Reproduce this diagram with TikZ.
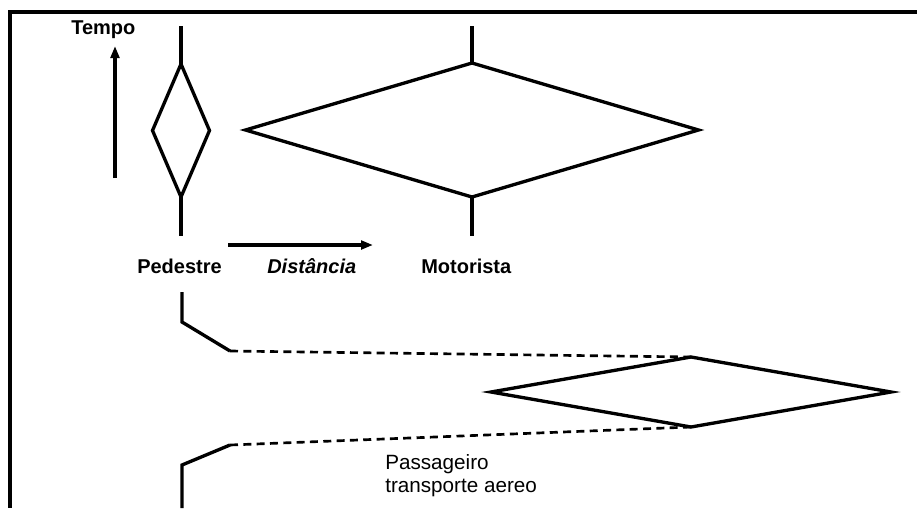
\documentclass[tikz,border=0pt]{standalone}
\usepackage{fontspec}
\setmainfont{Liberation Sans}
\usetikzlibrary{shapes.geometric,arrows.meta}
\begin{document}
\begin{tikzpicture}[x=0.75pt,y=-0.75pt,
  rhomb/.style={draw,diamond,line width=2.5pt,inner sep=0pt,outer sep=0pt},
  link/.style={line width=2.5pt},
  dashlink/.style={line width=2pt,dash pattern=on 6pt off 4pt},
  axis/.style={line width=2.5pt,-{Triangle[length=9pt,width=6.5pt]}},
  lbl/.style={anchor=base west,inner sep=0pt,font=\fontsize{15pt}{18pt}\selectfont\bfseries},
  plain/.style={anchor=base west,inner sep=0pt,font=\fontsize{15.5pt}{18pt}\selectfont},
  frame/.style={line width=2.3pt}]
\useasboundingbox (0,0) rectangle (917,508);
\fill[white] (0,0) rectangle (917,508);

% outer frame (top and left edges)
\draw[frame] (917,12) -- (10,12) -- (10,508);

% diamonds (sizes given in pixels, 1px = 0.75pt)
\node[rhomb,minimum width=57*0.75pt,minimum height=133*0.75pt] (ped) at (181,130.5) {};
\node[rhomb,minimum width=453*0.75pt,minimum height=134*0.75pt] (mot) at (472,130) {};
\node[rhomb,minimum width=400*0.75pt,minimum height=70*0.75pt] (aer) at (691,392) {};

% stems of the two upper diamonds
\coordinate (pedTop) at (181,26);
\coordinate (pedBot) at (181,236);
\coordinate (motTop) at (472,26);
\coordinate (motBot) at (472,236);
\draw[link] (pedTop) -- (ped.north);
\draw[link] (ped.south) -- (pedBot);
\draw[link] (motTop) -- (mot.north);
\draw[link] (mot.south) -- (motBot);

% axes
\coordinate (tA) at (115,178);
\coordinate (tB) at (115,46);
\draw[axis] (tA) -- (tB);
\coordinate (dA) at (228,245);
\coordinate (dB) at (373,245);
\draw[axis] (dA) -- (dB);

% labels
\node[lbl] (tempo) at (71,34) {Tempo};
\node[lbl] (pedestre) at (137,273) {Pedestre};
\node[lbl] (dist) at (267,273) {\itshape Distância};
\node[lbl] (motorista) at (421,273) {Motorista};
\node[plain] (pass1) at (385,469) {Passageiro};
\node[plain] (pass2) at (385,492) {transporte aereo};

% bent leads into the lower diamond
\coordinate (u1) at (182,292);
\coordinate (u2) at (182,322);
\coordinate (u3) at (230,351);
\draw[link,line join=miter] (u1) -- (u2) -- (u3);
\draw[dashlink] (u3) -- (aer.north);

\coordinate (l1) at (182,508);
\coordinate (l2) at (182,465);
\coordinate (l3) at (230,445);
\draw[link,line join=miter] (l1) -- (l2) -- (l3);
\draw[dashlink] (l3) -- (aer.south);
\end{tikzpicture}
\end{document}
